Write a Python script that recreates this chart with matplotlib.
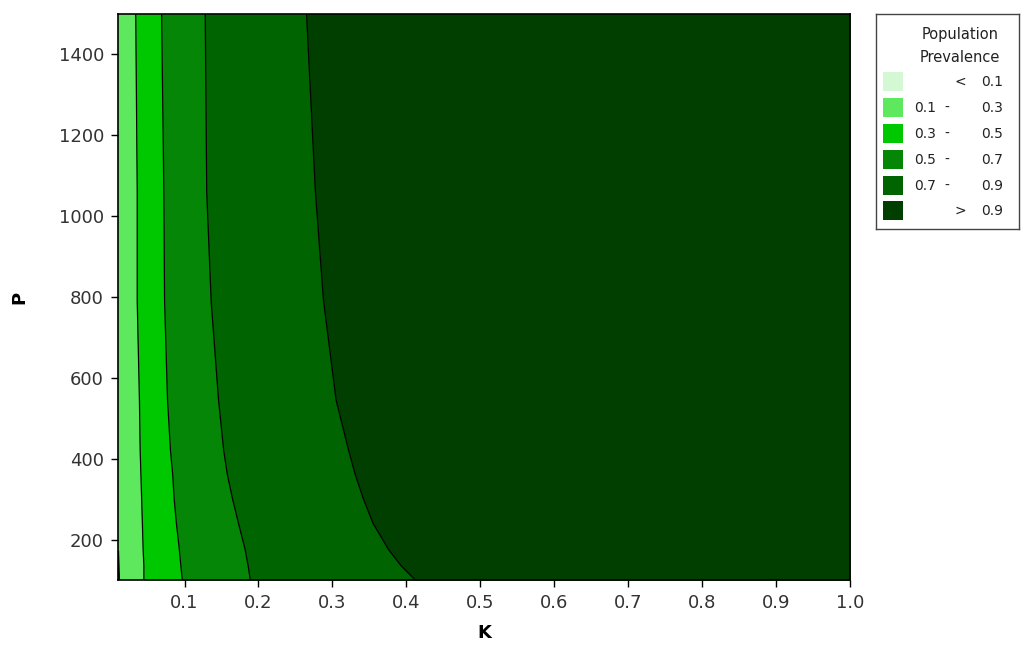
import matplotlib
matplotlib.use("Agg")
import matplotlib.pyplot as plt
from matplotlib.patches import Rectangle

# P values at which each prevalence contour was traced
p_rows = [100, 135, 175, 240, 300, 360, 420, 545, 790, 1060, 1500]

# K position of each contour level along p_rows
k_03 = [0.045, 0.045, 0.044, 0.043, 0.042, 0.041, 0.040, 0.039, 0.036, 0.036, 0.034]
k_05 = [0.097, 0.095, 0.093, 0.089, 0.086, 0.084, 0.081, 0.077, 0.073, 0.072, 0.069]
k_07 = [0.189, 0.186, 0.182, 0.173, 0.165, 0.158, 0.153, 0.146, 0.136, 0.130, 0.128]
k_09 = [0.412, 0.393, 0.376, 0.355, 0.342, 0.331, 0.322, 0.305, 0.288, 0.277, 0.265]

# the 0.1 contour only enters the plot at the very bottom
p_rows_01 = [100, 170]
k_01 = [0.0113, 0.0100]

k_min, k_max = 0.01, 1.0
p_min, p_max = 100, 1500

band_colors = ["#d4f7d4", "#5ee85e", "#00c800", "#068606", "#006400", "#003f00"]
band_labels = [("", "<", "0.1"), ("0.1", "-", "0.3"), ("0.3", "-", "0.5"),
               ("0.5", "-", "0.7"), ("0.7", "-", "0.9"), ("", ">", "0.9")]

fig = plt.figure(figsize=(10.22, 6.46), dpi=100)
ax = fig.add_axes([118 / 1022, 1 - 580 / 646, 732 / 1022, 566 / 646])

# bands painted from the left, each one covering everything to its right
ax.set_facecolor(band_colors[1])
ax.fill_betweenx(p_rows_01, k_min, k_01, color=band_colors[0], lw=0)
for k_edge, col in zip([k_03, k_05, k_07, k_09], band_colors[2:]):
    ax.fill_betweenx(p_rows, k_edge, k_max, color=col, lw=0)

ax.plot(k_01, p_rows_01, color="black", lw=1.6)
for k_edge in [k_03, k_05, k_07, k_09]:
    ax.plot(k_edge, p_rows, color="black", lw=0.9)

ax.set_xlim(k_min, k_max)
ax.set_ylim(p_min, p_max)
ax.set_xticks([0.1, 0.2, 0.3, 0.4, 0.5, 0.6, 0.7, 0.8, 0.9, 1.0])
ax.set_xticklabels(["0.1", "0.2", "0.3", "0.4", "0.5", "0.6", "0.7", "0.8", "0.9", "1.0"])
ax.set_yticks([200, 400, 600, 800, 1000, 1200, 1400])
ax.tick_params(labelsize=13, length=5, width=1, color="black", labelcolor="#333333", pad=5)
for s in ax.spines.values():
    s.set_color("black")
    s.set_linewidth(1.2)

ax.set_xlabel("K", fontsize=13, fontweight="bold", labelpad=9)
ax.set_ylabel("P", fontsize=13, fontweight="bold", labelpad=22)

# legend box drawn in its own pixel-scaled axes
lg = fig.add_axes([876 / 1022, 1 - 229 / 646, 143 / 1022, 215 / 646])
lg.set_xlim(0, 143)
lg.set_ylim(215, 0)
lg.set_xticks([])
lg.set_yticks([])
for s in lg.spines.values():
    s.set_color("#444444")
    s.set_linewidth(1)

lg.text(84, 21, "Population", ha="center", va="center", fontsize=10.5, color="#222222")
lg.text(84, 44, "Prevalence", ha="center", va="center", fontsize=10.5, color="#222222")
row_y = [68, 94, 120, 146, 172, 197]
for y, col, (lo, sep, hi) in zip(row_y, band_colors, band_labels):
    lg.add_patch(Rectangle((7, y - 10), 20, 19, color=col, lw=0))
    if lo:
        lg.text(38, y, lo, ha="left", va="center", fontsize=10, color="#222222")
        lg.text(71, y, sep, ha="center", va="center", fontsize=10, color="#222222")
    else:
        lg.text(84, y, sep, ha="center", va="center", fontsize=10, color="#222222")
    lg.text(105, y, hi, ha="left", va="center", fontsize=10, color="#222222")

fig.savefig("out.png", dpi=100)
